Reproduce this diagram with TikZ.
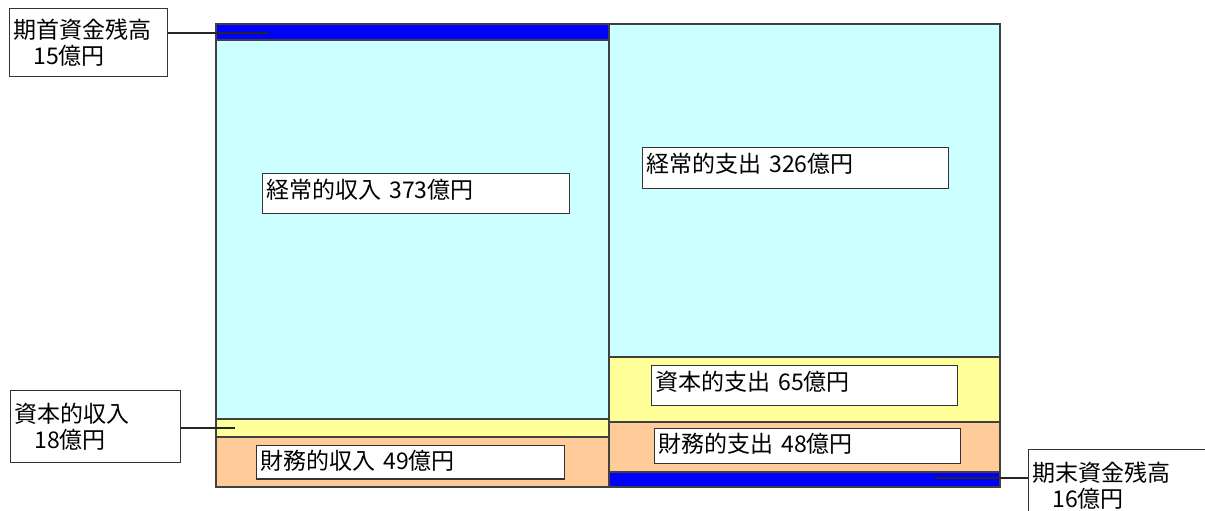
\documentclass[tikz,border=0pt]{standalone}
\usepackage{fontspec}
\setmainfont{Noto Sans CJK JP}
\usepackage{xcolor}
\definecolor{kei}{RGB}{204,255,255}
\definecolor{shi}{RGB}{255,255,153}
\definecolor{zai}{RGB}{255,204,153}
\definecolor{zan}{RGB}{0,0,255}

\begin{document}
\begin{tikzpicture}[x=0.5pt,y=-0.5pt,
        band/.style={draw=black!75,line width=0.7pt},
        lbl/.style={draw=black!80,fill=white,line width=0.7pt,anchor=north west,inner sep=2pt,
            align=left,font=\fontsize{11.5}{13}\selectfont},
        lead/.style={black!85,line width=0.7pt}]
        \useasboundingbox (0,0) rectangle (1205,510);
        % Income column
        \begin{scope}
            \draw[band,fill=zan] (216,24) rectangle (609,40);
            \draw[band,fill=kei] (216,40) rectangle (609,419);
            \draw[band,fill=shi] (216,419) rectangle (609,437);
            \draw[band,fill=zai] (216,437) rectangle (609,487);
            \node[lbl,minimum width=153.5pt,minimum height=20pt,text width=149.5pt,text depth=5pt] (KS) at (262,173){経常的収入\ 373億円};
            \node[lbl,minimum width=154pt,minimum height=16.5pt,text width=150pt,text depth=3pt] (ZS) at (256,445){財務的収入\ 49億円};
            \coordinate (KZ) at (268,33);
            \coordinate (SS) at (235,428);
        \end{scope}
        % Expenditure column
        \begin{scope}
            \draw[band,fill=kei] (609,24) rectangle (1000,357);
            \draw[band,fill=shi] (609,357) rectangle (1000,422);
            \draw[band,fill=zai] (609,422) rectangle (1000,472);
            \draw[band,fill=zan] (609,472) rectangle (1000,487);
            \node[lbl,minimum width=153pt,minimum height=20.5pt,text width=149pt,text depth=5pt] (KE) at (642,147){経常的支出\ 326億円};
            \node[lbl,minimum width=153pt,minimum height=20pt,text width=149pt,text depth=5pt] (SE) at (651,365){資本的支出\ 65億円};
            \node[lbl,minimum width=153pt,minimum height=17.5pt,text width=149pt,text depth=3pt] (ZE) at (654,428){財務的支出\ 48億円};
            \coordinate (MZ) at (935,478);
        \end{scope}
        % outside labels
        \node[lbl,minimum width=79pt,minimum height=34pt,text width=75pt] (A) at (9,8){期首資金残高\\\hspace{0.85em}15億円};
        \node[lbl,minimum width=85pt,minimum height=36pt,text width=81pt] (B) at (10,390){資本的収入\\\hspace{0.85em}18億円};
        \node[lbl,minimum width=90pt,minimum height=36pt,text width=86pt] (C) at (1028,449){期末資金残高\\\hspace{0.85em}16億円};
        \draw[lead] (A.east |- KZ) -- (KZ);
        \draw[lead] (B.east |- SS) -- (SS);
        \draw[lead] (MZ) -- (C.west |- MZ);
    \end{tikzpicture}
\end{document}
